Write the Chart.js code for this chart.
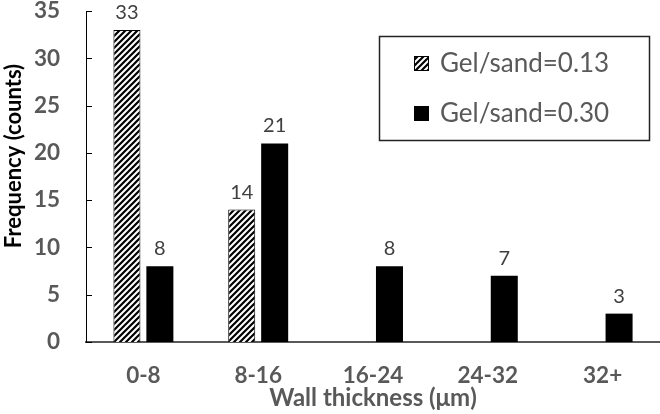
<!DOCTYPE html>
<html>
<head>
<meta charset="utf-8">
<script src="https://cdn.jsdelivr.net/npm/chart.js@4.4.0/dist/chart.umd.min.js"></script>
<style>
html,body{margin:0;padding:0;background:#fff;}
#wrap{width:660px;height:414px;position:relative;}
</style>
</head>
<body>
<div id="wrap"><canvas id="c" width="660" height="414"></canvas></div>
<script>
const categories = ['0-8', '8-16', '16-24', '24-32', '32+'];
const seriesLabels = ['Gel/sand=0.13', 'Gel/sand=0.30'];
const gel013 = [33, 14, 0, 0, 0];
const gel030 = [8, 21, 8, 7, 3];
const yTicks = [0, 5, 10, 15, 20, 25, 30, 35];
const xTitle = 'Wall thickness (μm)';
const yTitle = 'Frequency (counts)';

const FONT = 'Lato';
const GRAY = '#595959';

function hatch() {
  const s = 6;
  const c = document.createElement('canvas');
  c.width = s; c.height = s;
  const g = c.getContext('2d');
  g.fillStyle = '#fff'; g.fillRect(0, 0, s, s);
  g.strokeStyle = '#000'; g.lineWidth = 2.2;
  g.beginPath();
  g.moveTo(-1, s + 1); g.lineTo(s + 1, -1);
  g.moveTo(-1, 1); g.lineTo(1, -1);
  g.moveTo(s - 1, s + 1); g.lineTo(s + 1, s - 1);
  g.stroke();
  return g.createPattern(c, 'repeat');
}
const hatchPattern = hatch();

const insideTicks = {
  id: 'insideTicks',
  afterDatasetsDraw(chart) {
    const y = chart.scales.y, ctx = chart.ctx;
    ctx.save();
    ctx.strokeStyle = '#000'; ctx.lineWidth = 1;
    yTicks.forEach(v => {
      const py = Math.round(y.getPixelForValue(v)) + 0.5;
      ctx.beginPath(); ctx.moveTo(y.right, py); ctx.lineTo(y.right + 6, py); ctx.stroke();
    });
    ctx.restore();
  }
};

const valueLabels = {
  id: 'valueLabels',
  afterDatasetsDraw(chart) {
    const ctx = chart.ctx;
    ctx.save();
    ctx.font = '400 20px ' + FONT;
    ctx.fillStyle = '#404040';
    ctx.textAlign = 'center';
    ctx.textBaseline = 'alphabetic';
    chart.data.datasets.forEach((ds, i) => {
      chart.getDatasetMeta(i).data.forEach((bar, j) => {
        const v = ds.data[j];
        if (!v) return;
        ctx.fillText(String(v), bar.x, bar.y - 11);
      });
    });
    ctx.restore();
  }
};

const boxLegend = {
  id: 'boxLegend',
  afterDraw(chart) {
    const ctx = chart.ctx;
    ctx.save();
    ctx.strokeStyle = '#222'; ctx.lineWidth = 1.5;
    ctx.strokeRect(379.5, 36.5, 270, 104);
    ctx.font = '400 26px ' + FONT;
    ctx.textBaseline = 'middle';
    ctx.textAlign = 'left';
    const rows = [63, 113];
    chart.data.datasets.forEach((ds, i) => {
      const y = rows[i];
      ctx.fillStyle = ds.backgroundColor;
      ctx.fillRect(414, y - 7, 15, 15);
      ctx.strokeStyle = '#000'; ctx.lineWidth = 1;
      ctx.strokeRect(414.5, y - 6.5, 14, 14);
      ctx.fillStyle = GRAY;
      ctx.fillText(ds.label, 440, y + 1);
    });
    ctx.restore();
  }
};

const yTitlePlugin = {
  id: 'yTitlePlugin',
  afterDraw(chart) {
    const ctx = chart.ctx;
    ctx.save();
    ctx.translate(14, 156);
    ctx.rotate(-Math.PI / 2);
    ctx.font = '700 22px ' + FONT;
    ctx.fillStyle = '#000';
    ctx.textAlign = 'center';
    ctx.textBaseline = 'middle';
    ctx.fillText(yTitle, 0, 0);
    ctx.restore();
  }
};

new Chart(document.getElementById('c'), {
  type: 'bar',
  data: {
    labels: categories,
    datasets: [
      { label: seriesLabels[0], data: gel013, backgroundColor: hatchPattern, borderColor: '#000', borderWidth: 1,
        categoryPercentage: 0.574, barPercentage: 0.82 },
      { label: seriesLabels[1], data: gel030, backgroundColor: '#000', borderColor: '#000', borderWidth: 0,
        categoryPercentage: 0.574, barPercentage: 0.82 }
    ]
  },
  options: {
    responsive: false,
    animation: false,
    devicePixelRatio: 1,
    layout: { padding: { top: 11, right: 0, left: 0, bottom: 0 } },
    plugins: { legend: { display: false }, tooltip: { enabled: false } },
    scales: {
      x: {
        grid: { display: false, drawTicks: false },
        border: { display: true, color: GRAY, width: 2 },
        ticks: { color: GRAY, font: { family: FONT, size: 22.5, weight: '700' }, padding: 20, maxRotation: 0 },
        title: { display: true, text: xTitle, color: GRAY, font: { family: FONT, size: 24, weight: '700' }, padding: { top: 0, bottom: 1 } },
        afterFit(s) { s.height = 72; s.paddingLeft = 0; s.paddingRight = 0; }
      },
      y: {
        min: 0, max: 35,
        afterBuildTicks(s) { s.ticks = yTicks.map(v => ({ value: v })); },
        grid: { display: false, drawTicks: false },
        border: { display: true, color: '#000', width: 1 },
        ticks: { color: GRAY, font: { family: FONT, size: 22.5, weight: '700' }, padding: 26 },
        afterFit(s) { s.width = 86; s.paddingTop = 0; s.paddingBottom = 0; }
      }
    }
  },
  plugins: [insideTicks, valueLabels, boxLegend, yTitlePlugin]
});
</script>
</body>
</html>
